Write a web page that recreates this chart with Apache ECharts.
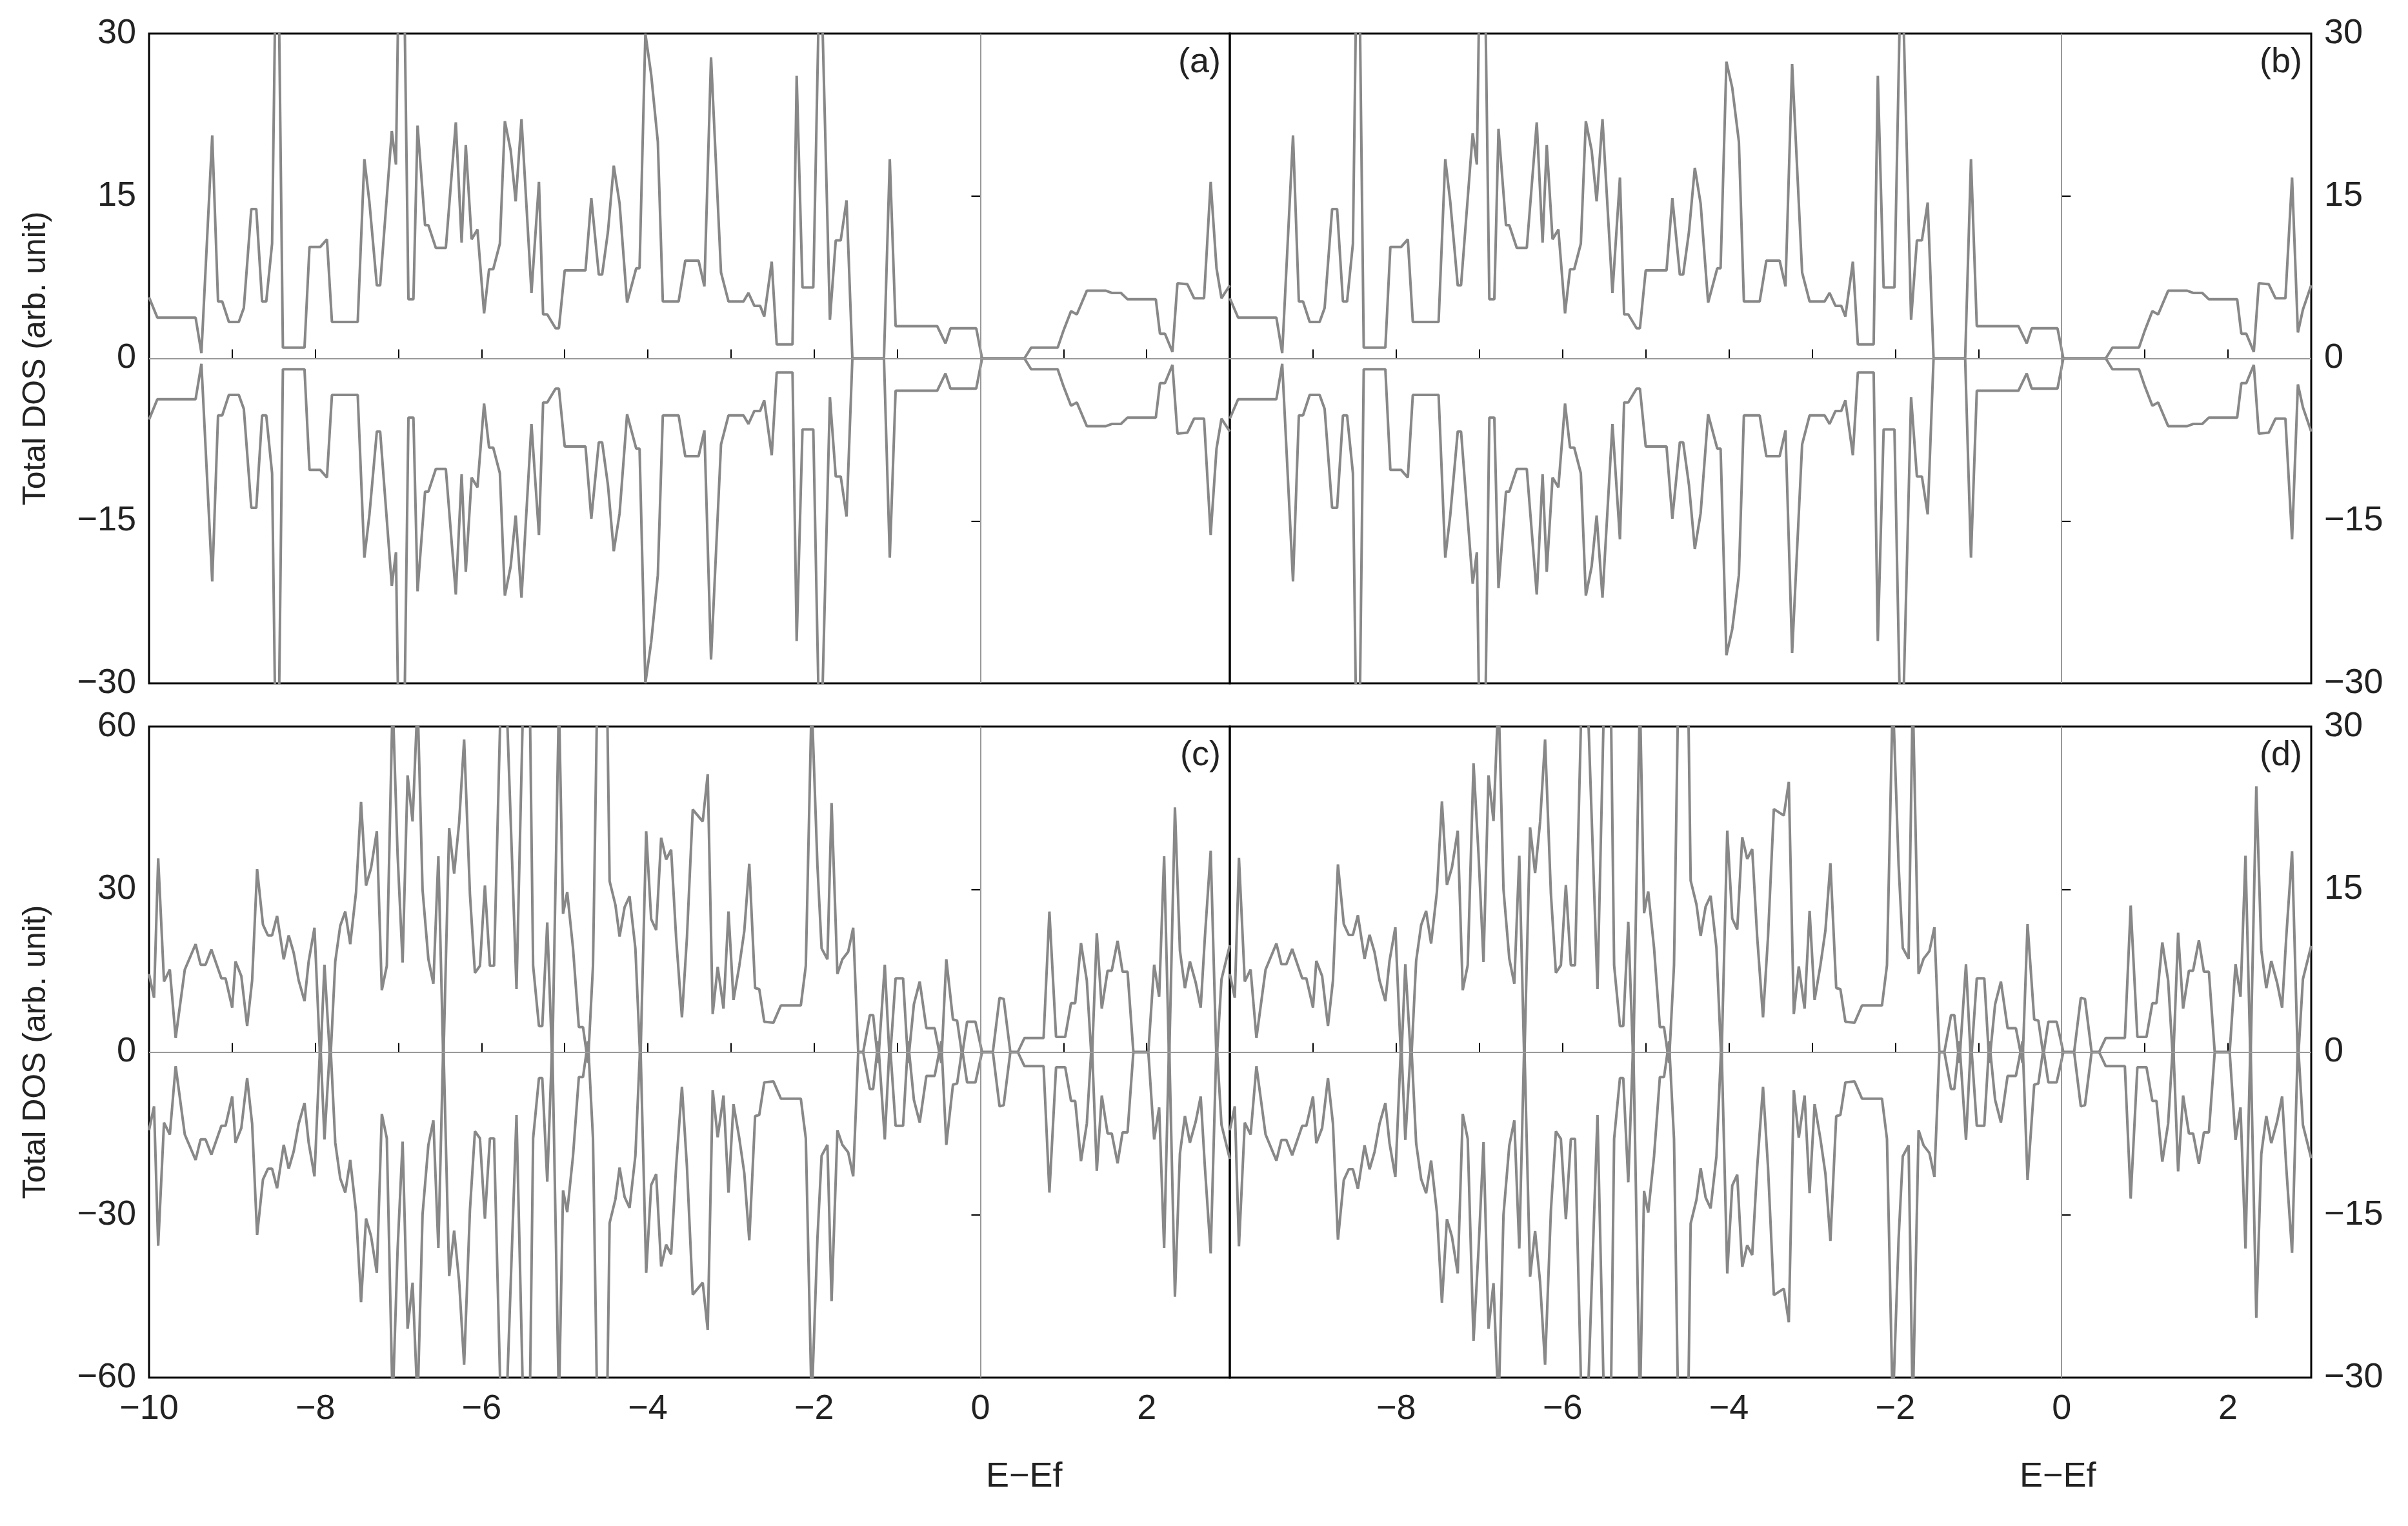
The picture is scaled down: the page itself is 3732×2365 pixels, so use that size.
<!DOCTYPE html>
<html><head><meta charset="utf-8">
<script src="https://cdn.jsdelivr.net/npm/echarts@6/dist/echarts.min.js"></script>
<style>html,body{margin:0;padding:0;background:#fff}#c{width:3732px;height:2365px}</style>
</head><body><div id="c"></div>
<script>
// Top row energies (eV)
const energyTop = [-10.00,-9.90,-9.44,-9.37,-9.24,-9.17,-9.12,-9.04,-8.92,-8.86,-8.77,-8.71,-8.64,-8.59,-8.52,-8.48,-8.44,-8.39,-8.13,-8.07,-7.94,-7.86,-7.80,-7.49,-7.41,-7.35,-7.26,-7.22,-7.08,-7.03,-7.00,-6.93,-6.88,-6.82,-6.77,-6.68,-6.64,-6.55,-6.43,-6.31,-6.24,-6.19,-6.12,-6.05,-5.97,-5.91,-5.86,-5.78,-5.72,-5.65,-5.59,-5.52,-5.40,-5.31,-5.26,-5.21,-5.11,-5.07,-5.00,-4.75,-4.68,-4.59,-4.55,-4.48,-4.41,-4.34,-4.25,-4.14,-4.10,-4.03,-3.96,-3.88,-3.82,-3.63,-3.55,-3.39,-3.32,-3.24,-3.12,-3.03,-2.85,-2.79,-2.72,-2.65,-2.60,-2.51,-2.45,-2.26,-2.21,-2.14,-2.01,-1.94,-1.91,-1.81,-1.74,-1.68,-1.61,-1.54,-1.16,-1.09,-1.02,-0.52,-0.42,-0.36,-0.05,0.02,0.53,0.61,0.93,1.00,1.09,1.16,1.28,1.51,1.58,1.69,1.77,2.11,2.16,2.22,2.31,2.37,2.49,2.57,2.69,2.77,2.84,2.90,3.00];
const dosA = [5.65,3.77,3.77,0.5,20.6,5.26,5.26,3.37,3.37,4.66,13.8,13.8,5.26,5.26,10.6,34,34,1.0,1.0,10.3,10.3,11.0,3.37,3.37,18.4,14.5,6.75,6.75,21.0,17.9,34,34,5.46,5.46,21.5,12.3,12.3,10.2,10.2,21.8,10.7,19.7,11.0,11.9,4.17,8.23,8.23,10.6,21.9,19.2,14.5,22.1,6.05,16.3,4.07,4.07,2.78,2.78,8.13,8.13,14.8,7.74,7.74,11.7,17.8,14.3,5.16,8.33,8.33,30.0,26.2,20.0,5.26,5.26,9.03,9.03,6.65,27.8,7.94,5.26,5.26,6.05,4.86,4.86,3.87,8.93,1.29,1.29,26.1,6.55,6.55,34,34,3.57,10.9,10.9,14.6,0,0,18.4,2.98,2.98,1.39,2.78,2.78,0,0,1.0,1.0,2.58,4.37,4.07,6.25,6.25,6.05,6.05,5.46,5.46,2.28,2.28,0.6,6.94,6.85,5.56,5.56,16.3,8.33,5.56,6.75];
const dosB = [5.56,3.77,3.77,0.5,20.6,5.26,5.26,3.37,3.37,4.66,13.8,13.8,5.26,5.26,10.6,34,34,1.0,1.0,10.3,10.3,11.0,3.37,3.37,18.4,14.5,6.75,6.75,20.8,17.9,34,34,5.46,5.46,21.2,12.3,12.3,10.2,10.2,21.8,10.7,19.7,11.0,11.9,4.17,8.23,8.23,10.6,21.9,19.2,14.5,22.1,6.05,16.7,4.07,4.07,2.78,2.78,8.13,8.13,14.8,7.74,7.74,11.7,17.6,14.3,5.16,8.33,8.33,27.4,25.0,20.0,5.26,5.26,9.03,9.03,6.65,27.2,7.94,5.26,5.26,6.05,4.86,4.86,3.87,8.93,1.29,1.29,26.1,6.55,6.55,34,34,3.57,10.9,10.9,14.4,0,0,18.4,2.98,2.98,1.39,2.78,2.78,0,0,1.0,1.0,2.58,4.37,4.07,6.25,6.25,6.05,6.05,5.46,5.46,2.28,2.28,0.6,6.94,6.85,5.56,5.56,16.7,2.4,4.5,6.75];
// Bottom row energies (eV)
const energyBottom = [-10.00,-9.94,-9.89,-9.82,-9.75,-9.68,-9.57,-9.44,-9.38,-9.32,-9.25,-9.13,-9.08,-9.00,-8.96,-8.89,-8.82,-8.76,-8.70,-8.63,-8.57,-8.52,-8.46,-8.38,-8.32,-8.26,-8.20,-8.13,-8.08,-8.01,-7.94,-7.89,-7.82,-7.76,-7.70,-7.64,-7.58,-7.51,-7.45,-7.39,-7.33,-7.26,-7.20,-7.14,-7.07,-7.01,-6.95,-6.89,-6.83,-6.77,-6.71,-6.64,-6.58,-6.52,-6.46,-6.39,-6.33,-6.27,-6.21,-6.14,-6.08,-6.02,-5.96,-5.90,-5.85,-5.77,-5.70,-5.58,-5.50,-5.42,-5.38,-5.31,-5.27,-5.21,-5.15,-5.07,-5.02,-4.97,-4.90,-4.83,-4.78,-4.72,-4.66,-4.61,-4.49,-4.46,-4.39,-4.34,-4.28,-4.22,-4.15,-4.09,-4.02,-3.96,-3.90,-3.84,-3.78,-3.72,-3.66,-3.59,-3.53,-3.46,-3.34,-3.28,-3.22,-3.16,-3.09,-3.03,-2.97,-2.90,-2.84,-2.78,-2.71,-2.66,-2.60,-2.49,-2.40,-2.16,-2.10,-2.03,-1.96,-1.91,-1.84,-1.79,-1.72,-1.66,-1.59,-1.53,-1.47,-1.41,-1.33,-1.29,-1.23,-1.15,-1.09,-1.02,-0.93,-0.87,-0.80,-0.73,-0.65,-0.55,-0.47,-0.41,-0.33,-0.28,-0.22,-0.16,-0.06,0.02,0.15,0.23,0.28,0.36,0.45,0.53,0.76,0.83,0.91,1.02,1.09,1.14,1.21,1.28,1.34,1.40,1.46,1.53,1.58,1.65,1.71,1.77,1.84,2.02,2.09,2.15,2.21,2.27,2.34,2.40,2.46,2.52,2.59,2.65,2.70,2.77,2.84,2.90,3.00];
const dosC = [14.4,10.0,35.7,13.0,15.2,2.6,15.2,19.9,16.1,16.1,18.9,13.6,13.6,8.2,16.7,14.0,4.8,13.2,33.7,23.5,21.5,21.5,25.1,17.1,21.5,18.3,13.2,9.4,16.7,22.9,-2,16.1,-2,16.7,23.3,25.9,19.9,29.5,46.1,30.7,33.9,40.7,11.4,15.9,65,36.3,16.5,51.0,42.5,65,29.9,17.1,12.6,36.1,-2,41.3,32.9,42.3,57.6,29.1,14.6,15.9,30.7,15.9,15.9,65,65,11.6,65,65,15.9,4.8,4.8,23.9,-2,65,25.5,29.5,19.1,4.6,4.6,-2,15.9,65,65,31.5,27.1,21.3,26.7,28.7,19.1,-2,40.7,24.5,22.5,39.5,35.5,37.3,21.1,6.4,21.1,44.7,42.5,51.2,7.0,15.7,8.0,25.9,9.6,15.9,22.3,34.7,11.8,11.6,5.6,5.4,8.6,8.6,15.9,65,34.3,19.1,17.1,45.9,14.4,17.1,18.5,22.9,0,0,6.8,6.8,-2,16.1,-2,13.6,13.6,-2,8.8,13.0,4.4,4.4,-2,17.1,6.0,5.8,-0.6,5.6,5.6,0,0,10.0,9.8,0,0,2.6,2.6,25.9,2.8,2.8,9.0,9.0,20.1,13.2,-2,21.9,8.0,15.0,15.0,20.5,14.8,14.8,0,0,16.1,10.2,36.1,-2,45.1,18.7,11.8,16.7,12.8,8.2,21.1,37.1,-2,13.4,19.7];
const dosD = [7.2,5.0,17.9,6.5,7.6,1.3,7.6,10.0,8.1,8.1,9.5,6.8,6.8,4.1,8.4,7.0,2.4,6.6,17.3,11.8,10.8,10.8,12.6,8.6,10.8,9.2,6.6,4.7,8.4,11.5,-1,8.1,-1,8.4,11.7,13.0,10.0,14.8,23.1,15.4,17.0,20.4,5.7,8.0,26.6,18.2,8.3,25.5,21.3,33,15.0,8.6,6.3,18.1,-1,20.7,16.5,21.2,28.8,14.6,7.3,8.0,15.4,8.0,8.0,33,33,5.8,33,33,8.0,2.4,2.4,12.0,-1,33,12.8,14.8,9.6,2.3,2.3,-1,8.0,33,33,15.8,13.6,10.7,13.4,14.4,9.6,-1,20.4,12.3,11.3,19.8,17.8,18.7,10.6,3.2,10.6,22.4,21.8,24.9,3.5,7.9,4.0,13.0,4.8,8.0,11.2,17.4,5.9,5.8,2.8,2.7,4.3,4.3,8.0,33,17.2,9.6,8.6,33,7.2,8.6,9.3,11.5,0,0,3.4,3.4,-1,8.1,-1,6.8,6.8,-1,4.4,6.5,2.2,2.2,-1,11.8,3.0,2.9,-0.3,2.8,2.8,0,0,5.0,4.9,0,0,1.3,1.3,13.5,1.4,1.4,4.5,4.5,10.1,6.6,-1,11.0,4.0,7.5,7.5,10.3,7.4,7.4,0,0,8.1,5.1,18.1,-1,24.5,9.4,5.9,8.4,6.4,4.1,10.6,18.5,-1,6.7,9.8];
const panelLabels = ['(a)','(b)','(c)','(d)'];
const xTickLabels = [-10,-8,-6,-4,-2,0,2];
const yMax = [30,30,60,30];

const FONT = 'Liberation Sans';
const L=231, M=1906, R=3582, T1=52, B1=1059, T2=1126, B2=2135;
const grids = [
  {left:L, width:M-L, top:T1, height:B1-T1},
  {left:M, width:R-M, top:T1, height:B1-T1},
  {left:L, width:M-L, top:T2, height:B2-T2},
  {left:M, width:R-M, top:T2, height:B2-T2}
].map(g=>Object.assign(g,{show:true,borderColor:'#000',borderWidth:3,containLabel:false}));
const xAxes = grids.map((g,i)=>({
  type:'value', gridIndex:i, min:-10, max:3, interval:1,
  axisLine:{show:false}, splitLine:{show:false},
  axisTick:{show:true, inside:true, length:14, lineStyle:{color:'#000',width:2}},
  axisLabel:{show:i>=2, fontFamily:FONT, fontSize:54, color:'#222', margin:22,
    formatter:v=>(xTickLabels.includes(v) && !(i===3 && v===-10)) ? String(v).replace('-','\u2212') : ''}
}));
const dataSets=[[energyTop,dosA],[energyTop,dosB],[energyBottom,dosC],[energyBottom,dosD]];
const yAxes = grids.map((g,i)=>({
  type:'value', gridIndex:i, min:-yMax[i], max:yMax[i], interval:yMax[i]/2,
  position: (i%2===0)?'left':'right',
  axisLine:{show:false}, splitLine:{show:false},
  axisTick:{show:true, inside:false, length:14, lineStyle:{color:'#000',width:2}},
  axisLabel:{fontFamily:FONT, fontSize:54, color:'#222', margin:20,
    formatter:v=>String(v).replace('-','\u2212')},
  name:(i%2===0)?'Total DOS (arb. unit)':'', nameLocation:'middle', nameGap:150,
  nameTextStyle:{fontFamily:FONT,fontSize:50,color:'#222'}
}));
const series=[];
dataSets.forEach(([xs,ys],i)=>{
  const up = xs.map((x,k)=>[x,ys[k]]);
  const dn = xs.map((x,k)=>[x,-ys[k]]);
  [up,dn].forEach(d=>series.push({type:'line',xAxisIndex:i,yAxisIndex:i,data:d,symbol:'none',
    clip:true,lineStyle:{color:'#888',width:4},silent:true,animation:false,z:3}));
  series.push({type:'line',xAxisIndex:i,yAxisIndex:i,data:[],silent:true,animation:false,
    markLine:{symbol:'none',silent:true,label:{show:false},
      lineStyle:{color:'#999',width:2,type:'solid'},
      data:[{xAxis:0},{yAxis:0}]}});
});
const graphics = grids.map((g,i)=>({type:'text', right: (i%2===0)?(3732-M+14):(3732-R+14), top:g.top+18,
  style:{text:panelLabels[i],font:'54px '+FONT,fill:'#222'}}));
graphics.push({type:'text',left:1528,top:2262,style:{text:'E\u2212Ef',font:'54px '+FONT,fill:'#222',align:'center'}});
graphics.push({type:'text',left:3130,top:2262,style:{text:'E\u2212Ef',font:'54px '+FONT,fill:'#222',align:'center'}});
const chart = echarts.init(document.getElementById('c'));
chart.setOption({animation:false,backgroundColor:'#fff',grid:grids,xAxis:xAxes,yAxis:yAxes,series,graphic:graphics});
</script></body></html>
